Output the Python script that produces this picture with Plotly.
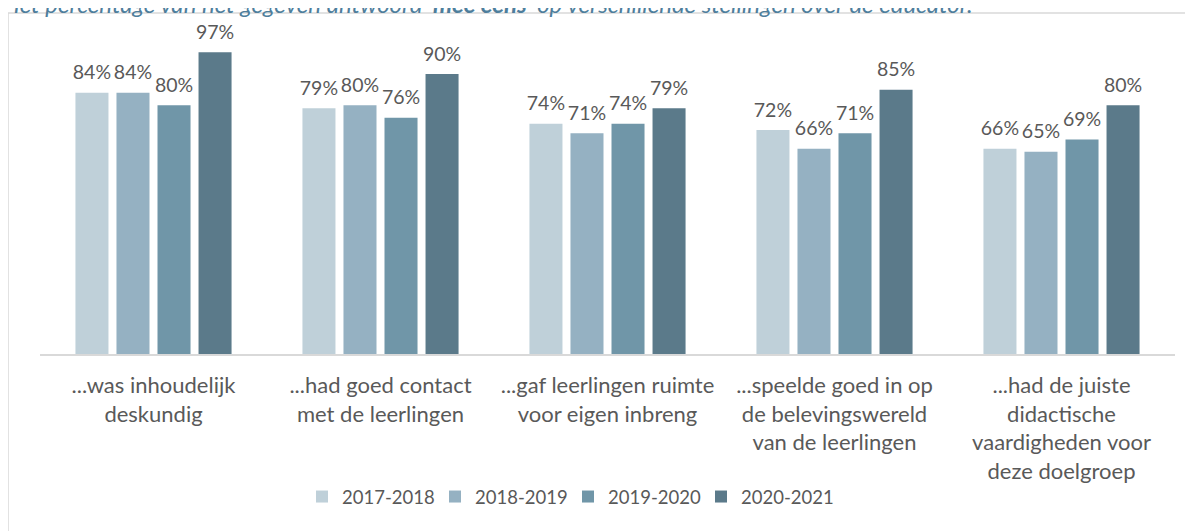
import plotly.graph_objects as go

categories = [
    "...was inhoudelijk<br>deskundig",
    "...had goed contact<br>met de leerlingen",
    "...gaf leerlingen ruimte<br>voor eigen inbreng",
    "...speelde goed in op<br>de belevingswereld<br>van de leerlingen",
    "...had de juiste<br>didactische<br>vaardigheden voor<br>deze doelgroep",
]
series_names = ["2017-2018", "2018-2019", "2019-2020", "2020-2021"]
values_2017 = [84, 79, 74, 72, 66]
values_2018 = [84, 80, 71, 66, 65]
values_2019 = [80, 76, 74, 71, 69]
values_2020 = [97, 90, 79, 85, 80]
series_values = [values_2017, values_2018, values_2019, values_2020]
colors = ["#BFD0D9", "#95B1C2", "#7096A8", "#5B7A8A"]

title_text = ("Het percentage van het gegeven antwoord <b>'mee eens'</b> "
              "op verschillende stellingen over de educator.")

FONT = "Lato, 'Open Sans', sans-serif"
TXT = "#595959"

fig = go.Figure()
for i, (name, vals, col) in enumerate(zip(series_names, series_values, colors)):
    fig.add_trace(go.Bar(
        x=categories, y=vals, name=name, marker_color=col,
        marker_line_width=0, offsetgroup=str(i), hoverinfo="skip",
    ))
for i, (name, vals) in enumerate(zip(series_names, series_values)):
    fig.add_trace(go.Scatter(
        x=categories, y=vals, mode="markers+text",
        text=[f"{v}%" for v in vals], textposition="top center",
        textfont=dict(family=FONT, size=19.5, color=TXT),
        marker=dict(size=12, opacity=0),
        offsetgroup=str(i), showlegend=False, hoverinfo="skip",
        cliponaxis=False,
    ))

# page body adds an 8px offset; figure is sized to fit the window
W, H = 1185, 523
ml, mr, mt, mb = 32, 18, 35, 177
pw = W - ml - mr
ph = H - mt - mb

fig.update_layout(
    width=W, height=H,
    margin=dict(l=ml, r=mr, t=mt, b=mb),
    paper_bgcolor="white", plot_bgcolor="white",
    barmode="group", bargap=0.277, bargroupgap=0.195,
    scattermode="group", scattergap=0.277,
    font=dict(family=FONT, size=19, color=TXT),
    xaxis=dict(
        showline=True, linecolor="#D9D9D9", linewidth=1.5,
        showgrid=False, ticks="", ticklabelstandoff=11,
        tickfont=dict(family=FONT, size=22, color=TXT),
    ),
    yaxis=dict(range=[0, 100], visible=False),
    legend=dict(
        orientation="h", x=(294 - ml) / pw, xanchor="left",
        y=(346 - 489) / ph, yanchor="middle",
        font=dict(family=FONT, size=18.5, color=TXT),
        traceorder="normal",
        entrywidth=88, entrywidthmode="pixels",
    ),
    showlegend=True,
)

fig.add_annotation(
    text=title_text, xref="paper", yref="paper",
    x=(-7 - ml) / pw, xanchor="left",
    y=1 + (mt + 4) / ph, yanchor="middle",
    showarrow=False,
    font=dict(family=FONT, size=24, color="#4E7E9C", style="italic"),
)

fig.add_shape(
    type="rect", xref="paper", yref="paper",
    x0=(0 - ml) / pw, x1=1.2, y0=-1.0, y1=1 + (mt - 5) / ph,
    line=dict(color="#D9D9D9", width=1.5), fillcolor="rgba(0,0,0,0)",
    layer="below",
)

fig.write_html("out.html")
